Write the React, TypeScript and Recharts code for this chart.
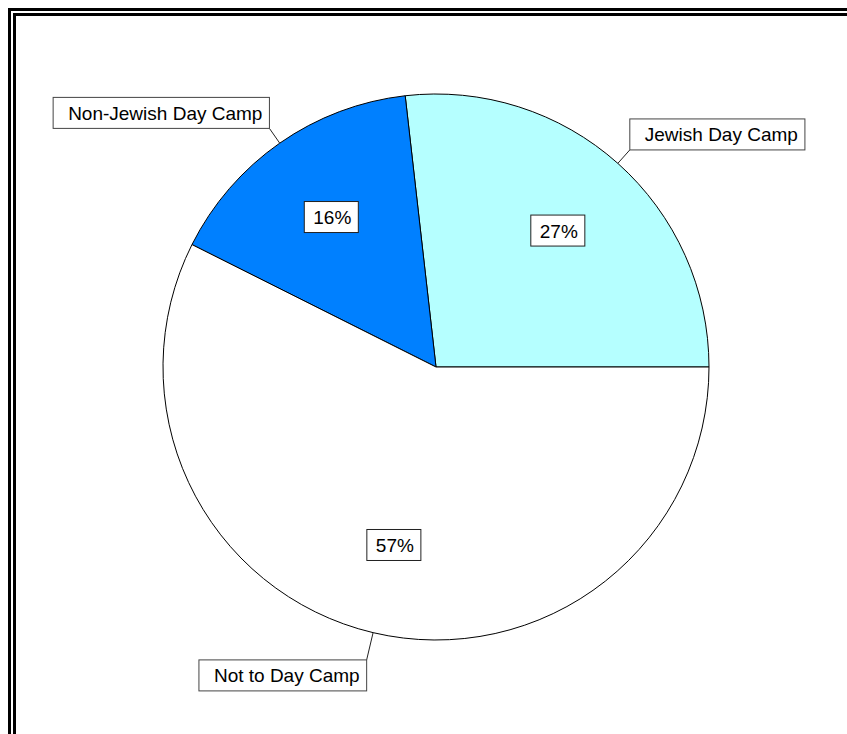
import { PieChart, Pie, Cell } from "recharts";

const categories = ["Jewish Day Camp", "Non-Jewish Day Camp", "Not to Day Camp"];
const shares = [26.8, 15.8, 57.4];
const colors = ["#b5ffff", "#0080ff", "#ffffff"];

const data = categories.map((name, i) => ({ name, value: shares[i] }));

const FONT = "'Liberation Sans', Arial, sans-serif";
const FS = 19;
const RADIAN = Math.PI / 180;

let ctx: CanvasRenderingContext2D | null = null;
function textWidth(s: string) {
  if (!ctx) ctx = document.createElement("canvas").getContext("2d");
  if (!ctx) return s.length * 9.5;
  ctx.font = `${FS}px ${FONT}`;
  return ctx.measureText(s).width;
}

function renderLabel(props: any) {
  const { cx, cy, midAngle, outerRadius, percent, name } = props;
  const cos = Math.cos(-midAngle * RADIAN);
  const sin = Math.sin(-midAngle * RADIAN);

  // percentage box inside the slice
  const pct = `${Math.round(percent * 100)}%`;
  const ir = outerRadius * 0.67;
  const px = cx + ir * cos;
  const py = cy + ir * sin;
  const pw = textWidth(pct) + 16;
  const ph = 31;

  // category box outside, hooked on a short leader (longer below the pie)
  const lead = sin > 0 ? 28 : 18;
  const sx = cx + outerRadius * cos;
  const sy = cy + outerRadius * sin;
  const ex = cx + (outerRadius + lead) * cos;
  const ey = cy + (outerRadius + lead) * sin;
  const w = textWidth(name) + 22;
  const h = 31;
  const bx = ex < cx ? ex - w : ex;
  const by = ey < cy ? ey - h : ey;

  return (
    <g>
      <rect x={px - pw / 2} y={py - ph / 2} width={pw} height={ph} fill="#fff" stroke="#222" strokeWidth={1} />
      <text x={px + 1} y={py + 7} textAnchor="middle" fontFamily={FONT} fontSize={FS} fill="#000">
        {pct}
      </text>
      <line x1={sx} y1={sy} x2={ex} y2={ey} stroke="#222" strokeWidth={1} />
      <rect x={bx} y={by} width={w} height={h} fill="#fff" stroke="#444" strokeWidth={1} />
      <text x={bx + w - 7} y={by + h / 2 + 7} textAnchor="end" fontFamily={FONT} fontSize={FS} fill="#000">
        {name}
      </text>
    </g>
  );
}

export default function App() {
  return (
    <div style={{ position: "fixed", left: 0, top: 0, width: 847, height: 734, overflow: "hidden", background: "#fff" }}>
      <div style={{ position: "absolute", left: 8, top: 8, width: 1000, height: 1000, border: "3px solid #000" }} />
      <div style={{ position: "absolute", left: 13, top: 13, width: 1000, height: 1000, border: "3px solid #000" }} />
      <div style={{ position: "absolute", left: 0, top: 0 }}>
        <PieChart width={847} height={734} margin={{ top: 0, right: 0, bottom: 0, left: 0 }}>
          <Pie
            data={data}
            dataKey="value"
            nameKey="name"
            cx={436}
            cy={367}
            outerRadius={273}
            startAngle={0}
            endAngle={360}
            stroke="#000"
            strokeWidth={1}
            label={renderLabel}
            labelLine={false}
            isAnimationActive={false}
          >
            {data.map((d, i) => (
              <Cell key={d.name} fill={colors[i]} />
            ))}
          </Pie>
        </PieChart>
      </div>
    </div>
  );
}
